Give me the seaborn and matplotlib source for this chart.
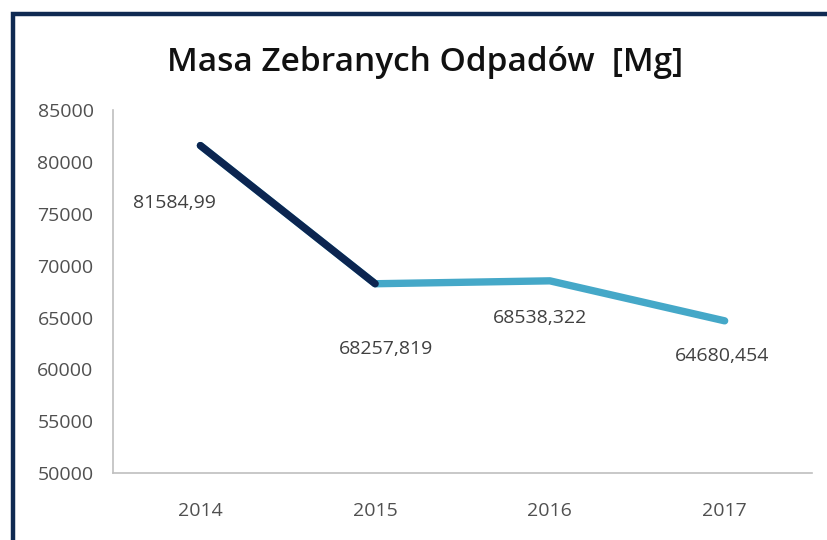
import matplotlib
matplotlib.use("Agg")
import matplotlib.pyplot as plt
import seaborn as sns
import pandas as pd
from matplotlib.patches import Rectangle

# data
years = [2014, 2015, 2016, 2017]
masa = [81584.99, 68257.819, 68538.322, 64680.454]
labels = ["81584,99", "68257,819", "68538,322", "64680,454"]
y_ticks = [50000, 55000, 60000, 65000, 70000, 75000, 80000, 85000]

df = pd.DataFrame({"rok": years, "masa": masa})

sns.set_style("white")
plt.rcParams["font.family"] = ["Open Sans", "DejaVu Sans"]

fig = plt.figure(figsize=(8.28, 5.4), dpi=100)
ax = fig.add_axes([0.1365, 0.124, 0.8442, 0.672])

# light blue for the whole series, navy over the first segment
sns.lineplot(data=df, x="rok", y="masa", ax=ax, color="#45a8c8", linewidth=5.3,
             solid_capstyle="round")
sns.lineplot(data=df.iloc[:2], x="rok", y="masa", ax=ax, color="#0c2550",
             linewidth=5.3, solid_capstyle="round")

ax.set_xlim(2013.5, 2017.5)
ax.set_ylim(50000, 85000)
ax.set_xticks(years)
ax.set_xticklabels([str(y) for y in years])
ax.set_yticks(y_ticks)
ax.set_yticklabels([str(v) for v in y_ticks])
ax.set_xlabel("")
ax.set_ylabel("")
ax.tick_params(axis="y", length=0, pad=14, labelsize=14, labelcolor="#505050")
ax.tick_params(axis="x", length=0, pad=21, labelsize=14, labelcolor="#505050")

for s in ["top", "right"]:
    ax.spines[s].set_visible(False)
for s in ["left", "bottom"]:
    ax.spines[s].set_color("#bfbfbf")
    ax.spines[s].set_linewidth(1.2)

# data labels
offsets = [(-19, -41), (8, -47), (-7, -27), (-2, -25)]
for x, y, t, off in zip(years, masa, labels, offsets):
    ax.annotate(t, (x, y), xytext=off, textcoords="offset points",
                ha="center", va="center", fontsize=14, color="#404040")

fig.text(0.513, 0.885, "Masa Zebranych Odpadów  [Mg]", ha="center", va="center",
         fontsize=24, fontweight="semibold", color="#111111")

# navy frame (right and bottom edges fall outside the picture)
fig.patches.append(Rectangle((0.0157, -0.1), 1.2, 1.074, transform=fig.transFigure,
                             fill=False, edgecolor="#0f2a52", linewidth=3.2,
                             figure=fig))

fig.savefig("out.png", dpi=100)
